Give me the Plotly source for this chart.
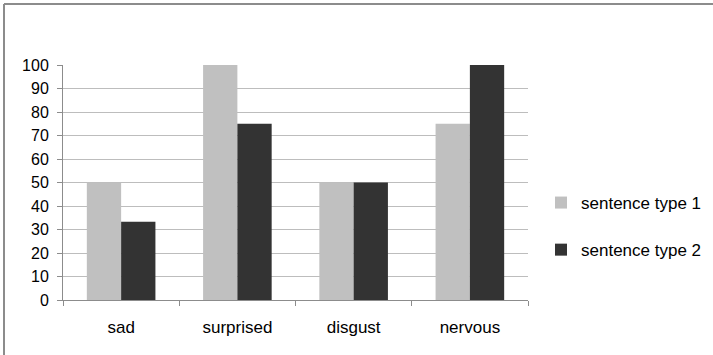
import plotly.graph_objects as go

categories = ["sad", "surprised", "disgust", "nervous"]
type1_values = [50, 100, 50, 75]
type2_values = [33.33, 75, 50, 100]
y_ticks = list(range(0, 101, 10))

W, H = 713, 355
L, R, T, B = 63, 185, 65, 55
plot_w = W - L - R
plot_h = H - T - B

fig = go.Figure()
fig.add_trace(go.Bar(
    x=categories, y=type1_values, name="sentence type 1",
    marker=dict(color="#c0c0c0", line=dict(width=0)),
    legendgroup="g1",
))
fig.add_trace(go.Bar(
    x=categories, y=type2_values, name="sentence type 2",
    marker=dict(color="#333333", line=dict(width=0)),
    legendgroup="g2",
))

# outer frame of the chart: only the top and left edges lie inside the page
frame_x0 = (4 - L) / plot_w
frame_y1 = 1 + (T - 4) / plot_h
frame_style = dict(color="#8c8c8c", width=2)
fig.add_shape(type="line", xref="paper", yref="paper",
              x0=frame_x0, x1=(W + 80 - L) / plot_w, y0=frame_y1, y1=frame_y1,
              line=frame_style, layer="below")
fig.add_shape(type="line", xref="paper", yref="paper",
              x0=frame_x0, x1=frame_x0, y0=-(B + 80) / plot_h, y1=frame_y1,
              line=frame_style, layer="below")

fig.update_layout(
    width=W, height=H,
    margin=dict(l=L, r=R, t=T, b=B, autoexpand=False),
    paper_bgcolor="white", plot_bgcolor="white",
    barmode="group", bargap=0.41, bargroupgap=0,
    font=dict(family="Liberation Sans, Arial, sans-serif", size=17, color="#000000"),
    showlegend=True,
    legend=dict(
        x=(541 - L) / plot_w, xanchor="left",
        y=1 - (185 - T) / plot_h, yanchor="top",
        tracegroupgap=22, traceorder="grouped",
        font=dict(size=17), bgcolor="rgba(0,0,0,0)",
    ),
    xaxis=dict(
        type="category", showline=True, linecolor="#8c8c8c", linewidth=1,
        ticks="outside", ticklen=5, tickcolor="#8c8c8c", tickson="boundaries",
        ticklabelstandoff=12, showgrid=False, tickfont=dict(size=17),
    ),
    yaxis=dict(
        range=[0, 100], tickvals=y_ticks, showline=True, linecolor="#8c8c8c",
        linewidth=1, ticks="outside", ticklen=5, tickcolor="#8c8c8c",
        showgrid=True, gridcolor="#bdbdbd", gridwidth=1, zeroline=False,
        ticklabelstandoff=5, tickfont=dict(size=16),
    ),
)

fig.write_html("out.html")
